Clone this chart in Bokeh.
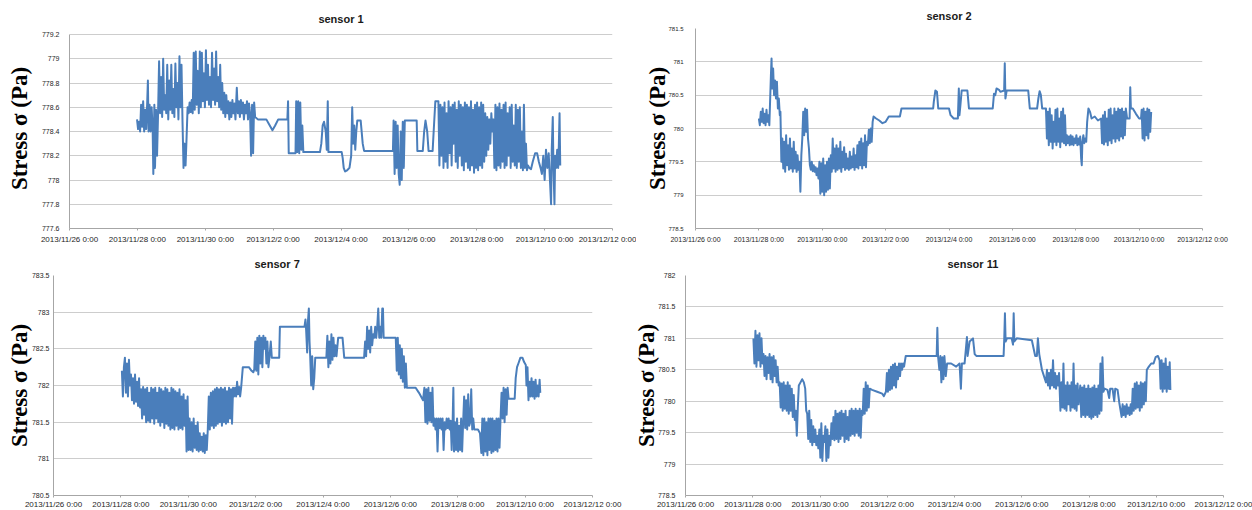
from bokeh.plotting import figure
from bokeh.layouts import row, column
from bokeh.models import Range1d, FixedTicker
from bokeh.embed import file_html
from bokeh.resources import INLINE

# ---------------- data (x in days since 2013/11/26 0:00) ----------------
x_ticks = [0, 2, 4, 6, 8, 10, 12, 14, 16]
x_tick_labels = ["2013/11/26 0:00", "2013/11/28 0:00", "2013/11/30 0:00", "2013/12/2 0:00",
                 "2013/12/4 0:00", "2013/12/6 0:00", "2013/12/8 0:00", "2013/12/10 0:00",
                 "2013/12/12 0:00"]

s1_yticks = [777.6, 777.8, 778.0, 778.2, 778.4, 778.6, 778.8, 779.0, 779.2]
s1_ylabels = ["777.6", "777.8", "778", "778.2", "778.4", "778.6", "778.8", "779", "779.2"]
s2_yticks = [778.5, 779.0, 779.5, 780.0, 780.5, 781.0, 781.5]
s2_ylabels = ["778.5", "779", "779.5", "780", "780.5", "781", "781.5"]
s7_yticks = [780.5, 781.0, 781.5, 782.0, 782.5, 783.0, 783.5]
s7_ylabels = ["780.5", "781", "781.5", "782", "782.5", "783", "783.5"]
s11_yticks = [778.5, 779.0, 779.5, 780.0, 780.5, 781.0, 781.5, 782.0]
s11_ylabels = ["778.5", "779", "779.5", "780", "780.5", "781", "781.5", "782"]

sensor1 = [
    (1.99, 778.50), (2.02, 778.42), (2.05, 778.48), (2.08, 778.40), (2.11, 778.62), (2.14, 778.44),
    (2.17, 778.65), (2.20, 778.40), (2.23, 778.58), (2.26, 778.42), (2.29, 778.64), (2.31, 778.82),
    (2.33, 778.40), (2.36, 778.62), (2.39, 778.40), (2.42, 778.60), (2.45, 778.42), (2.47, 778.05),
    (2.50, 778.62), (2.52, 778.10), (2.55, 778.58), (2.58, 778.20), (2.61, 778.55), (2.64, 778.98),
    (2.67, 778.55), (2.70, 778.85), (2.73, 778.52), (2.76, 779.00), (2.79, 778.58), (2.82, 778.70),
    (2.85, 778.55), (2.88, 778.95), (2.91, 778.50), (2.94, 778.82), (2.97, 778.58), (3.00, 778.95),
    (3.03, 778.55), (3.06, 778.75), (3.09, 778.52), (3.12, 778.96), (3.15, 778.60), (3.18, 778.80),
    (3.21, 778.50), (3.24, 779.02), (3.27, 778.60), (3.30, 778.95), (3.33, 778.48), (3.36, 778.10),
    (3.39, 778.30), (3.42, 778.12), (3.45, 778.35), (3.48, 778.60), (3.51, 778.55), (3.54, 778.64),
    (3.57, 778.56), (3.60, 778.66), (3.63, 778.55), (3.66, 779.05), (3.69, 778.58), (3.72, 779.06),
    (3.75, 778.62), (3.78, 778.90), (3.81, 778.55), (3.84, 779.06), (3.87, 778.60), (3.90, 779.05),
    (3.93, 778.65), (3.96, 778.88), (3.99, 778.60), (4.02, 779.07), (4.05, 778.66), (4.08, 778.95),
    (4.11, 778.62), (4.14, 778.85), (4.17, 778.60), (4.20, 779.05), (4.23, 778.66), (4.26, 778.92),
    (4.29, 778.62), (4.32, 779.06), (4.35, 778.65), (4.38, 778.85), (4.41, 778.60), (4.44, 778.95),
    (4.47, 778.58), (4.50, 778.80), (4.53, 778.55), (4.56, 778.72), (4.59, 778.52), (4.62, 778.70),
    (4.65, 778.55), (4.68, 778.65), (4.71, 778.50), (4.74, 778.64), (4.77, 778.52), (4.80, 778.66),
    (4.83, 778.55), (4.86, 778.63), (4.89, 778.50), (4.93, 778.76), (4.96, 778.55), (4.99, 778.65),
    (5.02, 778.52), (5.05, 778.66), (5.08, 778.55), (5.11, 778.64), (5.14, 778.50), (5.17, 778.62),
    (5.20, 778.55), (5.23, 778.65), (5.26, 778.50), (5.29, 778.63), (5.32, 778.55), (5.35, 778.20),
    (5.38, 778.62), (5.41, 778.22), (5.44, 778.64), (5.47, 778.52), (5.55, 778.50), (5.80, 778.50),
    (5.88, 778.46), (5.98, 778.41), (6.06, 778.45), (6.15, 778.50), (6.42, 778.50), (6.44, 778.65),
    (6.46, 778.22), (6.66, 778.22), (6.68, 778.65), (6.71, 778.23), (6.74, 778.65), (6.77, 778.22),
    (6.80, 778.64), (6.83, 778.25), (6.86, 778.45), (6.89, 778.23), (7.38, 778.23), (7.42, 778.30),
    (7.46, 778.45), (7.50, 778.48), (7.55, 778.40), (7.58, 778.25), (7.61, 778.65), (7.63, 778.23),
    (8.02, 778.23), (8.05, 778.18), (8.08, 778.10), (8.12, 778.07), (8.18, 778.08), (8.25, 778.10),
    (8.30, 778.20), (8.33, 778.60), (8.36, 778.30), (8.39, 778.45), (8.42, 778.25), (8.45, 778.40),
    (8.48, 778.49), (8.58, 778.49), (8.64, 778.30), (8.68, 778.24), (9.53, 778.24), (9.55, 778.49),
    (9.58, 778.05), (9.61, 778.48), (9.64, 778.10), (9.67, 778.45), (9.70, 778.05), (9.73, 777.96),
    (9.76, 778.40), (9.79, 778.00), (9.82, 778.48), (9.85, 778.10), (9.88, 778.49), (10.23, 778.49),
    (10.25, 778.24), (10.41, 778.24), (10.45, 778.40), (10.49, 778.49), (10.54, 778.40), (10.58, 778.24),
    (10.70, 778.24), (10.74, 778.45), (10.78, 778.65), (10.87, 778.65), (10.90, 778.12), (10.93, 778.62),
    (10.96, 778.20), (10.99, 778.60), (11.02, 778.10), (11.05, 778.64), (11.08, 778.15), (11.11, 778.55),
    (11.14, 778.10), (11.17, 778.65), (11.20, 778.22), (11.23, 778.60), (11.26, 778.12), (11.29, 778.62),
    (11.32, 778.30), (11.35, 778.64), (11.38, 778.15), (11.41, 778.58), (11.44, 778.10), (11.47, 778.65),
    (11.50, 778.20), (11.53, 778.62), (11.56, 778.12), (11.59, 778.60), (11.62, 778.08), (11.65, 778.64),
    (11.68, 778.15), (11.71, 778.62), (11.74, 778.10), (11.77, 778.60), (11.80, 778.08), (11.83, 778.65),
    (11.86, 778.12), (11.89, 778.58), (11.92, 778.06), (11.95, 778.62), (11.98, 778.10), (12.01, 778.64),
    (12.04, 778.08), (12.07, 778.60), (12.10, 778.12), (12.13, 778.64), (12.16, 778.10), (12.19, 778.62),
    (12.22, 778.15), (12.25, 778.55), (12.28, 778.20), (12.31, 778.52), (12.34, 778.25), (12.37, 778.50),
    (12.40, 778.30), (12.43, 778.55), (12.46, 778.40), (12.49, 778.50), (12.52, 778.10), (12.55, 778.62),
    (12.58, 778.08), (12.61, 778.60), (12.64, 778.12), (12.67, 778.63), (12.70, 778.10), (12.73, 778.58),
    (12.76, 778.15), (12.79, 778.62), (12.82, 778.10), (12.85, 778.64), (12.88, 778.12), (12.91, 778.55),
    (12.94, 778.20), (12.97, 778.60), (13.00, 778.10), (13.03, 778.62), (13.06, 778.15), (13.09, 778.45),
    (13.12, 778.12), (13.15, 778.62), (13.18, 778.10), (13.21, 778.58), (13.24, 778.15), (13.27, 778.60),
    (13.30, 778.10), (13.33, 778.40), (13.36, 778.08), (13.39, 778.62), (13.42, 778.10), (13.45, 778.30),
    (13.48, 778.08), (13.51, 778.12), (13.55, 778.10), (13.60, 778.09), (13.65, 778.15), (13.72, 778.22),
    (13.78, 778.22), (13.83, 778.15), (13.88, 778.10), (13.92, 778.05), (13.96, 778.20), (14.00, 778.00),
    (14.04, 778.25), (14.08, 778.10), (14.12, 778.22), (14.16, 777.98), (14.19, 777.80), (14.21, 778.25),
    (14.24, 778.52), (14.26, 778.10), (14.29, 777.80), (14.31, 778.20), (14.34, 778.10), (14.37, 778.25),
    (14.40, 778.10), (14.42, 778.30), (14.44, 778.55), (14.46, 778.12),
]

sensor2 = [
    (2.00, 780.15), (2.03, 780.05), (2.06, 780.25), (2.09, 780.10), (2.12, 780.30), (2.15, 780.08),
    (2.18, 780.22), (2.21, 780.05), (2.24, 780.28), (2.27, 780.10), (2.30, 780.20), (2.33, 780.05),
    (2.36, 780.50), (2.38, 780.80), (2.40, 781.05), (2.42, 780.60), (2.45, 780.90), (2.48, 780.50),
    (2.51, 780.72), (2.54, 780.45), (2.57, 780.70), (2.60, 780.30), (2.63, 780.45), (2.66, 780.20),
    (2.68, 780.25), (2.71, 779.50), (2.74, 779.85), (2.77, 779.40), (2.80, 779.80), (2.83, 779.35),
    (2.86, 779.90), (2.89, 779.45), (2.92, 779.75), (2.95, 779.38), (2.98, 779.85), (3.01, 779.40),
    (3.04, 779.70), (3.07, 779.35), (3.10, 779.80), (3.13, 779.40), (3.16, 779.65), (3.19, 779.35),
    (3.22, 779.60), (3.25, 779.38), (3.28, 779.50), (3.31, 779.05), (3.34, 779.60), (3.37, 779.85),
    (3.40, 780.25), (3.43, 779.90), (3.46, 780.30), (3.49, 779.95), (3.52, 780.28), (3.55, 779.85),
    (3.58, 779.70), (3.61, 779.45), (3.64, 779.38), (3.67, 779.50), (3.70, 779.36), (3.73, 779.45),
    (3.76, 779.35), (3.79, 779.42), (3.82, 779.30), (3.85, 779.40), (3.88, 779.25), (3.91, 779.50),
    (3.94, 779.02), (3.97, 779.48), (4.00, 779.05), (4.03, 779.55), (4.06, 779.00), (4.09, 779.45),
    (4.12, 779.05), (4.15, 779.50), (4.18, 779.08), (4.21, 779.55), (4.24, 779.10), (4.27, 779.60),
    (4.30, 779.35), (4.33, 779.85), (4.36, 779.40), (4.39, 779.70), (4.42, 779.35), (4.45, 779.75),
    (4.48, 779.38), (4.51, 779.70), (4.54, 779.40), (4.57, 779.80), (4.60, 779.35), (4.63, 779.65),
    (4.66, 779.42), (4.69, 779.72), (4.72, 779.38), (4.75, 779.62), (4.78, 779.40), (4.81, 779.55),
    (4.84, 779.38), (4.87, 779.65), (4.90, 779.40), (4.93, 779.58), (4.96, 779.42), (4.99, 779.70),
    (5.02, 779.38), (5.05, 779.60), (5.08, 779.42), (5.11, 779.75), (5.14, 779.40), (5.17, 779.80),
    (5.20, 779.45), (5.23, 779.85), (5.26, 779.40), (5.29, 779.78), (5.32, 779.45), (5.35, 779.90),
    (5.38, 779.42), (5.41, 779.80), (5.44, 779.75), (5.47, 779.98), (5.50, 779.78), (5.53, 780.00),
    (5.56, 779.80), (5.59, 780.10), (5.62, 780.18), (5.70, 780.15), (5.80, 780.12), (5.90, 780.08),
    (6.00, 780.10), (6.10, 780.18), (6.45, 780.18), (6.50, 780.30), (7.50, 780.30), (7.52, 780.40),
    (7.57, 780.57), (7.62, 780.55), (7.66, 780.30), (8.00, 780.30), (8.05, 780.20), (8.15, 780.15),
    (8.28, 780.15), (8.31, 780.60), (8.33, 780.20), (8.36, 780.35), (8.40, 780.57), (8.58, 780.57),
    (8.63, 780.30), (9.38, 780.30), (9.42, 780.52), (9.46, 780.50), (9.50, 780.60), (9.58, 780.58),
    (9.62, 780.55), (9.74, 780.57), (9.76, 780.98), (9.78, 780.45), (9.82, 780.57), (10.50, 780.57),
    (10.55, 780.30), (10.78, 780.30), (10.82, 780.45), (10.86, 780.56), (10.90, 780.50), (10.94, 780.30),
    (11.06, 780.30), (11.09, 779.85), (11.12, 780.25), (11.15, 779.75), (11.18, 780.30), (11.21, 779.80),
    (11.24, 780.20), (11.27, 779.70), (11.30, 780.10), (11.33, 779.80), (11.36, 780.28), (11.39, 779.75),
    (11.42, 780.30), (11.45, 779.80), (11.48, 780.15), (11.51, 779.72), (11.54, 780.25), (11.57, 779.80),
    (11.60, 780.30), (11.63, 779.78), (11.66, 780.20), (11.69, 779.75), (11.72, 779.90), (11.75, 779.78),
    (11.78, 779.88), (11.81, 779.75), (11.84, 779.90), (11.87, 779.76), (11.90, 779.88), (11.93, 779.75),
    (11.96, 779.85), (11.99, 779.78), (12.02, 779.90), (12.05, 779.75), (12.08, 779.85), (12.11, 779.76),
    (12.14, 779.88), (12.17, 779.55), (12.19, 779.45), (12.21, 779.80), (12.24, 779.90), (12.27, 779.78),
    (12.30, 779.85), (12.33, 779.80), (12.36, 780.10), (12.40, 780.30), (12.45, 780.25), (12.50, 780.15),
    (12.60, 780.18), (12.70, 780.12), (12.80, 780.15), (12.83, 779.78), (12.86, 780.20), (12.89, 779.76),
    (12.92, 780.25), (12.95, 779.80), (12.98, 780.15), (13.01, 779.75), (13.04, 780.28), (13.07, 779.82),
    (13.10, 780.30), (13.13, 779.78), (13.16, 780.20), (13.19, 779.85), (13.22, 780.30), (13.25, 779.80),
    (13.28, 780.25), (13.31, 779.85), (13.34, 780.30), (13.37, 779.82), (13.40, 780.28), (13.43, 779.88),
    (13.46, 780.30), (13.49, 779.85), (13.52, 780.25), (13.55, 779.90), (13.58, 780.30), (13.62, 780.15),
    (13.70, 780.15), (13.72, 780.62), (13.74, 780.30), (13.80, 780.30), (13.90, 780.22), (14.00, 780.15),
    (14.06, 780.15), (14.08, 780.28), (14.11, 779.85), (14.14, 780.30), (14.17, 779.82), (14.20, 780.25),
    (14.23, 779.90), (14.26, 780.30), (14.29, 779.85), (14.32, 780.28), (14.35, 779.95), (14.38, 780.25),
]

sensor7 = [
    (2.03, 782.20), (2.06, 781.85), (2.09, 782.25), (2.12, 782.38), (2.15, 781.90), (2.18, 782.30),
    (2.21, 781.85), (2.24, 782.35), (2.27, 782.00), (2.30, 782.15), (2.33, 781.80), (2.36, 782.10),
    (2.39, 781.75), (2.42, 782.15), (2.45, 781.78), (2.48, 782.05), (2.51, 781.72), (2.54, 782.10),
    (2.57, 781.70), (2.60, 781.95), (2.63, 781.55), (2.66, 781.98), (2.69, 781.60), (2.72, 781.95),
    (2.75, 781.50), (2.78, 781.97), (2.81, 781.52), (2.84, 781.90), (2.87, 781.50), (2.90, 781.97),
    (2.93, 781.55), (2.96, 781.95), (2.99, 781.48), (3.02, 781.97), (3.05, 781.55), (3.08, 781.90),
    (3.11, 781.50), (3.14, 781.97), (3.17, 781.45), (3.20, 781.95), (3.23, 781.50), (3.26, 781.92),
    (3.29, 781.42), (3.32, 781.97), (3.35, 781.48), (3.38, 781.95), (3.41, 781.45), (3.44, 781.90),
    (3.47, 781.40), (3.50, 781.97), (3.53, 781.42), (3.56, 781.95), (3.59, 781.40), (3.62, 781.92),
    (3.65, 781.45), (3.68, 781.90), (3.71, 781.40), (3.74, 781.95), (3.77, 781.42), (3.80, 781.85),
    (3.83, 781.40), (3.86, 781.88), (3.89, 781.45), (3.92, 781.80), (3.95, 781.10), (3.98, 781.85),
    (4.01, 781.12), (4.04, 781.55), (4.07, 781.12), (4.10, 781.50), (4.13, 781.10), (4.16, 781.55),
    (4.19, 781.15), (4.22, 781.45), (4.25, 781.12), (4.28, 781.50), (4.31, 781.10), (4.34, 781.35),
    (4.37, 781.12), (4.40, 781.30), (4.43, 781.10), (4.46, 781.35), (4.49, 781.08), (4.52, 781.32),
    (4.55, 781.12), (4.58, 781.40), (4.61, 781.85), (4.64, 781.40), (4.67, 781.90), (4.70, 781.45),
    (4.73, 781.92), (4.76, 781.42), (4.79, 781.95), (4.82, 781.45), (4.85, 781.97), (4.88, 781.48),
    (4.91, 781.95), (4.94, 781.50), (4.97, 781.97), (5.00, 781.45), (5.03, 781.95), (5.06, 781.50),
    (5.09, 781.97), (5.12, 781.48), (5.15, 781.92), (5.18, 781.50), (5.21, 781.97), (5.24, 781.55),
    (5.27, 781.95), (5.30, 781.48), (5.33, 781.97), (5.36, 781.85), (5.39, 781.97), (5.42, 781.85),
    (5.45, 782.05), (5.48, 781.88), (5.51, 781.98), (5.54, 781.85), (5.57, 781.97), (5.62, 782.25),
    (5.80, 782.25), (5.88, 782.20), (5.93, 782.18), (5.96, 782.22), (5.99, 782.60), (6.02, 782.20),
    (6.05, 782.65), (6.08, 782.15), (6.11, 782.68), (6.14, 782.30), (6.17, 782.65), (6.20, 782.25),
    (6.23, 782.68), (6.26, 782.50), (6.29, 782.65), (6.32, 782.30), (6.35, 782.60), (6.38, 782.25),
    (6.41, 782.38), (6.45, 782.60), (6.48, 782.38), (6.70, 782.38), (6.72, 782.80), (7.45, 782.80),
    (7.48, 782.90), (7.50, 782.75), (7.53, 782.45), (7.55, 782.85), (7.58, 783.05), (7.60, 782.60),
    (7.62, 782.40), (7.65, 782.00), (7.68, 782.40), (7.71, 781.95), (7.74, 782.10), (7.77, 782.38),
    (8.10, 782.38), (8.13, 782.68), (8.16, 782.25), (8.19, 782.60), (8.22, 782.30), (8.25, 782.70),
    (8.28, 782.35), (8.31, 782.65), (8.34, 782.40), (8.37, 782.55), (8.40, 782.40), (8.45, 782.65),
    (8.58, 782.65), (8.63, 782.38), (9.22, 782.38), (9.25, 782.60), (9.28, 782.40), (9.31, 782.80),
    (9.34, 782.50), (9.37, 782.75), (9.40, 782.45), (9.43, 782.80), (9.46, 782.55), (9.49, 782.70),
    (9.52, 782.65), (9.55, 782.80), (9.58, 782.65), (9.61, 782.80), (9.64, 783.05), (9.67, 782.65),
    (9.70, 782.80), (9.73, 782.65), (9.76, 783.05), (9.78, 783.05), (9.80, 782.65), (10.16, 782.65),
    (10.19, 782.20), (10.22, 782.65), (10.25, 782.15), (10.28, 782.55), (10.31, 782.10), (10.34, 782.50),
    (10.37, 782.05), (10.40, 782.40), (10.43, 781.97), (10.46, 782.30), (10.49, 781.97), (10.52, 781.97),
    (10.75, 781.97), (10.85, 781.90), (10.97, 781.80), (11.01, 781.97), (11.04, 781.50), (11.07, 781.95),
    (11.10, 781.48), (11.13, 781.97), (11.16, 781.52), (11.19, 781.90), (11.22, 781.50), (11.25, 781.97),
    (11.28, 781.45), (11.31, 781.55), (11.34, 781.40), (11.37, 781.55), (11.40, 781.10), (11.43, 781.55),
    (11.46, 781.42), (11.49, 781.55), (11.52, 781.40), (11.55, 781.55), (11.58, 781.12), (11.61, 781.50),
    (11.64, 781.40), (11.67, 781.55), (11.70, 781.42), (11.73, 781.55), (11.76, 781.40), (11.79, 781.52),
    (11.82, 781.12), (11.85, 781.55), (11.87, 781.97), (11.89, 781.10), (11.92, 781.50), (11.95, 781.12),
    (11.98, 781.55), (12.01, 781.10), (12.04, 781.45), (12.07, 781.12), (12.10, 781.55), (12.13, 781.10),
    (12.16, 781.50), (12.19, 781.85), (12.22, 781.42), (12.25, 781.80), (12.28, 781.40), (12.31, 781.88),
    (12.34, 781.45), (12.37, 781.50), (12.40, 781.95), (12.43, 781.40), (12.46, 781.55), (12.49, 781.40),
    (12.60, 781.40), (12.66, 781.35), (12.70, 781.08), (12.73, 781.55), (12.76, 781.05), (12.79, 781.55),
    (12.82, 781.10), (12.85, 781.50), (12.88, 781.05), (12.91, 781.55), (12.94, 781.12), (12.97, 781.55),
    (13.00, 781.08), (13.03, 781.55), (13.06, 781.10), (13.09, 781.52), (13.12, 781.12), (13.15, 781.55),
    (13.18, 781.10), (13.21, 781.55), (13.24, 781.15), (13.27, 781.55), (13.30, 781.90), (13.33, 781.55),
    (13.36, 781.97), (13.39, 781.50), (13.42, 781.95), (13.45, 781.60), (13.48, 781.97), (13.51, 781.82),
    (13.69, 781.82), (13.72, 782.10), (13.76, 782.25), (13.80, 782.30), (13.86, 782.38), (13.92, 782.38),
    (13.97, 782.32), (14.02, 782.28), (14.04, 782.00), (14.07, 782.25), (14.10, 781.80), (14.13, 782.05),
    (14.16, 781.85), (14.19, 782.10), (14.22, 781.85), (14.25, 782.05), (14.28, 781.82), (14.31, 782.08),
    (14.34, 781.85), (14.37, 782.00), (14.40, 781.85), (14.43, 782.08), (14.45, 781.90),
]

sensor11 = [
    (2.02, 781.00), (2.05, 780.60), (2.08, 781.12), (2.11, 780.55), (2.14, 781.05), (2.17, 780.65),
    (2.20, 781.08), (2.23, 780.55), (2.26, 781.00), (2.29, 780.60), (2.32, 780.75), (2.35, 780.40),
    (2.38, 780.72), (2.41, 780.35), (2.44, 780.70), (2.47, 780.45), (2.50, 780.75), (2.53, 780.35),
    (2.56, 780.70), (2.59, 780.30), (2.62, 780.72), (2.65, 780.40), (2.68, 780.65), (2.71, 780.30),
    (2.74, 780.55), (2.77, 780.25), (2.80, 780.30), (2.83, 779.90), (2.86, 780.28), (2.89, 779.85),
    (2.92, 780.30), (2.95, 779.88), (2.98, 780.25), (3.01, 779.85), (3.04, 780.30), (3.07, 779.80),
    (3.10, 780.25), (3.13, 779.85), (3.16, 780.20), (3.19, 779.75), (3.22, 780.10), (3.25, 779.70),
    (3.28, 779.85), (3.31, 779.45), (3.34, 779.90), (3.37, 780.25), (3.42, 780.30), (3.47, 780.35),
    (3.52, 780.30), (3.56, 780.20), (3.59, 779.85), (3.62, 779.80), (3.65, 779.40), (3.68, 779.85),
    (3.71, 779.35), (3.74, 779.70), (3.77, 779.30), (3.80, 779.60), (3.83, 779.35), (3.86, 779.55),
    (3.89, 779.30), (3.92, 779.45), (3.95, 779.25), (3.98, 779.55), (4.01, 779.10), (4.04, 779.65),
    (4.07, 779.05), (4.10, 779.45), (4.13, 779.35), (4.16, 779.60), (4.19, 779.05), (4.22, 779.55),
    (4.25, 779.10), (4.28, 779.45), (4.31, 779.30), (4.34, 779.65), (4.37, 779.40), (4.40, 779.75),
    (4.43, 779.38), (4.46, 779.85), (4.49, 779.40), (4.52, 779.80), (4.55, 779.35), (4.58, 779.82),
    (4.61, 779.40), (4.64, 779.85), (4.67, 779.45), (4.70, 779.80), (4.73, 779.35), (4.76, 779.85),
    (4.79, 779.40), (4.82, 779.75), (4.85, 779.38), (4.88, 779.85), (4.91, 779.45), (4.94, 779.88),
    (4.97, 779.48), (5.00, 779.85), (5.03, 779.45), (5.06, 779.88), (5.09, 779.50), (5.12, 779.85),
    (5.15, 779.45), (5.18, 779.88), (5.21, 779.42), (5.24, 779.85), (5.27, 779.78), (5.30, 780.20),
    (5.33, 779.80), (5.36, 780.30), (5.39, 779.85), (5.42, 780.25), (5.45, 779.90), (5.48, 780.20),
    (5.55, 780.18), (5.70, 780.15), (5.85, 780.12), (5.90, 780.08), (5.96, 780.15), (5.99, 780.45),
    (6.02, 780.15), (6.05, 780.50), (6.08, 780.18), (6.11, 780.55), (6.14, 780.20), (6.17, 780.58),
    (6.20, 780.25), (6.23, 780.60), (6.26, 780.22), (6.29, 780.55), (6.32, 780.35), (6.35, 780.60),
    (6.38, 780.40), (6.41, 780.60), (6.44, 780.50), (6.47, 780.60), (6.50, 780.55), (6.55, 780.72),
    (7.47, 780.72), (7.49, 781.17), (7.51, 780.72), (7.55, 780.50), (7.58, 780.72), (7.61, 780.30),
    (7.64, 780.70), (7.67, 780.35), (7.70, 780.72), (7.74, 780.40), (7.78, 780.60), (7.90, 780.60),
    (8.05, 780.55), (8.15, 780.60), (8.19, 780.20), (8.22, 780.60), (8.30, 780.60), (8.37, 781.02),
    (8.39, 780.72), (8.45, 780.95), (8.55, 781.00), (8.60, 780.75), (8.65, 780.72), (9.46, 780.72),
    (9.48, 781.00), (9.50, 781.40), (9.52, 780.95), (9.56, 781.00), (9.70, 781.00), (9.74, 780.90),
    (9.76, 781.40), (9.78, 780.95), (9.85, 781.00), (10.30, 780.97), (10.40, 780.72), (10.45, 780.72),
    (10.48, 781.00), (10.52, 780.75), (10.60, 780.50), (10.72, 780.30), (10.75, 780.50), (10.78, 780.25),
    (10.81, 780.45), (10.84, 780.20), (10.87, 780.50), (10.90, 780.25), (10.93, 780.65), (10.96, 780.22),
    (10.99, 780.45), (11.02, 780.20), (11.05, 780.40), (11.08, 780.25), (11.11, 780.45), (11.15, 779.85),
    (11.18, 780.30), (11.21, 779.90), (11.24, 780.60), (11.27, 779.88), (11.30, 780.25), (11.33, 779.85),
    (11.36, 780.30), (11.39, 779.95), (11.42, 780.25), (11.45, 779.85), (11.48, 780.30), (11.51, 779.90),
    (11.54, 780.60), (11.57, 779.88), (11.60, 780.25), (11.63, 779.85), (11.66, 780.28), (11.69, 779.95),
    (11.74, 780.25), (11.77, 779.75), (11.80, 780.22), (11.83, 779.78), (11.86, 780.25), (11.89, 779.75),
    (11.92, 780.20), (11.95, 779.78), (11.98, 780.25), (12.01, 779.75), (12.04, 780.20), (12.07, 779.72),
    (12.10, 780.22), (12.13, 779.75), (12.16, 780.25), (12.19, 779.78), (12.22, 780.20), (12.25, 779.75),
    (12.28, 780.25), (12.31, 779.80), (12.34, 780.60), (12.37, 779.85), (12.40, 780.70), (12.43, 780.15),
    (12.46, 780.20), (12.55, 780.18), (12.60, 780.05), (12.63, 780.20), (12.70, 780.20), (12.75, 780.00),
    (12.78, 780.20), (12.85, 780.18), (12.90, 779.98), (12.97, 779.75), (13.00, 779.95), (13.03, 779.78),
    (13.06, 779.92), (13.09, 779.75), (13.12, 779.95), (13.15, 779.80), (13.18, 779.90), (13.21, 779.78),
    (13.24, 779.95), (13.27, 779.80), (13.30, 780.20), (13.33, 779.85), (13.36, 780.28), (13.39, 779.88),
    (13.42, 780.30), (13.45, 779.90), (13.48, 780.25), (13.51, 779.85), (13.54, 780.30), (13.57, 779.90),
    (13.60, 780.28), (13.63, 779.95), (13.66, 780.30), (13.69, 780.00), (13.72, 780.50), (13.78, 780.55),
    (13.85, 780.60), (13.92, 780.60), (13.98, 780.70), (14.05, 780.72), (14.10, 780.65), (14.13, 780.20),
    (14.16, 780.65), (14.19, 780.15), (14.22, 780.60), (14.25, 780.20), (14.28, 780.68), (14.31, 780.15),
    (14.34, 780.55), (14.37, 780.20), (14.40, 780.62), (14.42, 780.18),
]

LINE_COLOR = "#4a7ebb"


def make_panel(title, pts, yticks, ylabels, frame_w, frame_h, b_left, b_right, b_top, b_bottom,
               title_standoff, title_align, title_offset, ytick_font, ytick_standoff,
               ylabel_standoff, xtick_font, xtick_standoff, top_gap_px=0):
    lo, hi = yticks[0], yticks[-1]
    # the frames of a row share their top edge; a panel whose top gridline sits lower
    # gets some empty headroom above its last tick
    span_px = frame_h - top_gap_px
    y_end = hi + (hi - lo) * top_gap_px / span_px
    p = figure(frame_width=frame_w, frame_height=frame_h,
               min_border_left=b_left, min_border_right=b_right,
               min_border_top=b_top, min_border_bottom=b_bottom,
               x_range=Range1d(x_ticks[0], x_ticks[-1]),
               y_range=Range1d(lo, y_end),
               output_backend="svg", toolbar_location=None, tools="")
    t = [a for a, _ in pts]
    v = [b for _, b in pts]
    p.line(t, v, line_color=LINE_COLOR, line_width=2.0, line_join="round")

    p.title.text = title
    p.title.align = title_align
    p.title.offset = title_offset
    p.title.text_font = "Liberation Sans"
    p.title.text_font_size = "11px"
    p.title.text_font_style = "bold"
    p.title.text_color = "#1a1a1a"
    p.title.standoff = title_standoff

    p.outline_line_color = None
    p.background_fill_color = "white"
    p.border_fill_color = "white"

    p.xgrid.grid_line_color = None
    p.ygrid.ticker = FixedTicker(ticks=yticks)
    p.ygrid.grid_line_color = "#cdcdcd"
    p.ygrid.grid_line_width = 1

    xa = p.xaxis[0]
    xa.ticker = FixedTicker(ticks=x_ticks)
    xa.major_label_overrides = dict(zip(x_ticks, x_tick_labels))
    xa.axis_line_color = "#a6a6a6"
    xa.major_tick_line_color = "#a6a6a6"
    xa.major_tick_out = 2
    xa.major_tick_in = 0
    xa.minor_tick_line_color = None
    xa.major_label_text_font = "Liberation Sans"
    xa.major_label_text_font_size = xtick_font
    xa.major_label_text_color = "#262626"
    xa.major_label_standoff = xtick_standoff

    ya = p.yaxis[0]
    ya.ticker = FixedTicker(ticks=yticks)
    ya.bounds = (lo, hi)
    ya.major_label_overrides = dict(zip(yticks, ylabels))
    ya.axis_line_color = "#a6a6a6"
    ya.major_tick_line_color = None
    ya.major_tick_out = 0
    ya.major_tick_in = 0
    ya.minor_tick_line_color = None
    ya.major_label_text_font = "Liberation Sans"
    ya.major_label_text_font_size = ytick_font
    ya.major_label_text_color = "#262626"
    ya.major_label_standoff = ytick_standoff
    ya.axis_label = "Stress σ (Pa)"
    ya.axis_label_text_font = "Liberation Serif"
    ya.axis_label_text_font_size = "23px"
    ya.axis_label_text_font_style = "bold"
    ya.axis_label_text_color = "black"
    ya.axis_label_standoff = ylabel_standoff
    return p


p1 = make_panel("sensor 1", sensor1, s1_yticks, s1_ylabels, 543, 200, 69, 24, 28, 22,
                7, "center", 0, "7px", 10, 7, "8px", 4, top_gap_px=6)
p2 = make_panel("sensor 2", sensor2, s2_yticks, s2_ylabels, 507, 200, 59, 50, 28, 22,
                14, "center", 0, "6px", 12, -5, "7px", 5)
p3 = make_panel("sensor 7", sensor7, s7_yticks, s7_ylabels, 539, 220, 53, 38, 24, 16,
                11, "left", 201, "7px", 4, -3, "8px", 2)
p4 = make_panel("sensor 11", sensor11, s11_yticks, s11_ylabels, 538, 220, 55, 29, 24, 16,
                11, "left", 262, "7px", 10, -4, "8px", 2)

layout = column(row(p1, p2, spacing=0), row(p3, p4, spacing=0), spacing=0)

open("out.html", "w").write(file_html(layout, INLINE))
